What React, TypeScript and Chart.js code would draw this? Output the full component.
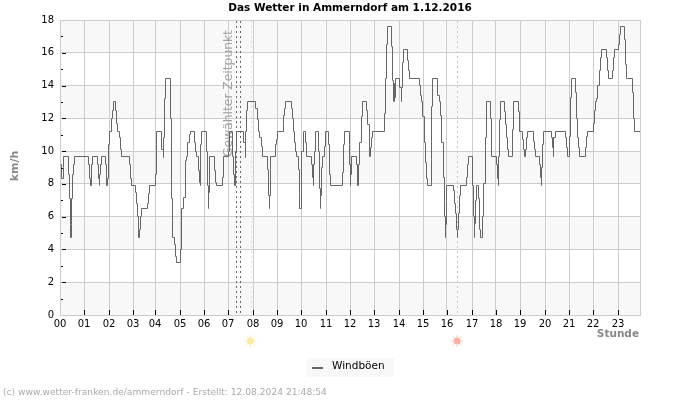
import React, { useEffect, useRef } from "react";
import { Chart, registerables } from "chart.js";

Chart.register(...registerables);

// Time is counted in samples of the station's record (about 24 per hour, some hours are shorter).
const hourLabels = ["00","01","02","03","04","05","06","07","08","09","10","11","12","13","14","15","16","17","18","19","20","21","22","23"];
const hourStart = [0,24,49,73,95,120,144,168,193,217,241,266,290,314,339,363,387,412,436,460,485,509,533,558];
const lastSample = 580;

// Each gust value holds from its sample until the next change.
const gustSample = [
  0,1.7,3,3.7,8,9,10,10.4,11,11.4,12.7,13.4,14,28,29.4,30,31,31.4,32,37.4,38.4,39,39.7,40.4,41,45.4,46,46.7,47.4,48,49,51.4,52,53,55,56,57,59,60,61,
  69.4,70.4,71.4,75,76,77,78,78.7,79.4,80,81,87.4,88,89,95.4,96,96.7,101,101.7,103,103.7,104.4,105,110,111,112,114,115,116,120.4,
  121.7,123,125,126.4,127.7,129,130,134.4,135.4,136.4,138.4,139.4,140,140.7,141.7,146,147,148,148.7,149.7,154.4,155.4,156.4,162,163,168,169,172,173,174,175,176.4,183.7,185,185.7,186.4,187.4,
  195.4,197,198.7,199.7,201,202,207.7,208.4,209,209.4,210,210.7,215,216,217,223,223.7,224.4,225,231,232.4,233.4,234.7,235.7,236.7,
  238,239,239.4,241,241.7,243,245.7,246.7,251.7,252.4,253,253.7,254.4,255.7,258.4,259.4,260,260.7,261.4,262,264.4,265.7,268.4,269.4,270.4,282.7,283.4,284.4,289,289.7,290.4,291,291.7,296,297.7,298.7,299.7,301,302,306.7,307.7,309,309.7,310.7,311.7,312.7,
  324.7,325.4,326.7,327,331.7,332.4,333.4,334,334.4,335,340,341,341.7,342.4,343.4,347.7,348.7,349.4,359.4,360.4,361.4,362.7,364,365.4,366.4,367,371.4,372,372.7,377.4,379,380.7,381.7,383.4,384.4,385,385.7,386.4,387,
  393.4,394.4,395.4,396,397,397.7,398.4,399.4,400.4,406.4,407.4,408,412.4,413,414,414.7,415.4,416,418.7,419.7,420.4,422.7,423.7,425,426,430.7,431.7,436.7,437.4,438,438.7,439.4,440.4,444.7,445.7,446.7,447.7,448.7,452.4,453.4,458,459,462,463,464,465,466,467.4,473.7,474.4,475,
  479.4,480.4,481,481.7,482.4,483,491.4,492.4,493,493.7,495,505.4,506.4,507,509.4,510.4,511,515.4,516.4,517.4,518.4,519.4,525.4,526.7,527.7,533.4,534.4,535.4,536.7,537.7,539,540,541,546,547,548.7,552.4,553.4,554.4,558,559.4,560.4,564.4,565,566,572.4,573.4,574.4,580,
];
const gustKmh = [
  9.2,8.3,9.0,9.7,8.6,7.1,5.5,4.7,5.5,7.1,8.6,9.2,9.7,9.2,8.3,7.9,8.3,9.2,9.7,9.2,8.3,7.9,8.6,9.2,9.7,9.2,8.6,7.9,8.3,10.4,11.2,12,12.5,13,12.5,11.7,11.2,10.8,10.1,9.7,
  9.2,8.3,7.9,7.5,6.8,6,5.2,4.7,5.2,6,6.5,6.8,7.4,7.9,8.6,10.4,11.2,10.8,10.1,9.6,10.8,13.2,14.4,12,7.1,4.7,4.3,3.6,3.2,4,
  6.5,7.2,9.4,9.7,10.5,11,11.2,10.5,10,9.7,8.8,8.1,7.9,10.4,11.2,10,7.9,6.5,7.5,9.7,8.8,8.1,7.9,8.4,9.7,10,11.2,9.7,8.6,7.9,10,11.2,10.5,9.6,11.2,12.5,13,
  12.6,11.9,11.2,10.8,10.3,9.7,8.9,7.3,6.5,7.3,8.9,9.7,10.4,10.7,11.2,11.7,12.2,12.6,13,12.6,12,11.2,10.5,10,9.7,
  8.9,7.4,6.5,7.7,10,11.2,10.5,9.7,9.2,8.4,7.9,9.2,10,11.2,10,7.7,6.5,7.3,9,9.7,10.3,11.2,10.4,8.6,7.9,8.7,10.4,11.2,10.4,9.2,7.9,8.6,9.7,9.2,7.9,9.2,10.5,12.1,13,12.5,11.6,10.8,9.7,10.2,10.8,11.2,
  12.3,14.4,16.5,17.6,16.4,14.3,13,14.1,13.3,14.4,13.9,13,13.9,15.4,16.2,15.5,14.9,14.4,14,13.4,13,12.1,10.5,9.3,8.3,7.9,9.5,12.7,14.4,13.4,13,12.2,10.5,8.4,6,4.7,5.5,7,7.9,
  7.6,6.8,6.2,5.2,4.7,5.2,6.2,7.3,7.9,8.4,9.2,9.7,7.9,6,4.7,5.6,7,7.9,7.1,5.2,4.7,6,8,10.8,13,12,9.7,9.2,8.3,7.9,9.7,11.9,13,12.4,11.6,10.8,10.1,9.7,11.3,13,12.4,11.2,10.7,10.1,9.7,10.1,10.8,11.2,10.6,10.1,9.7,
  9.2,8.4,7.9,9,10.4,11.2,10.8,10.2,9.7,10.8,11.2,10.8,10.2,9.7,10.9,13.3,14.4,13.6,12,10.8,10.2,9.7,10.2,10.9,11.2,11.7,12.5,13,13.2,14,14.9,15.7,16.2,15.7,14.9,14.4,14.9,15.7,16.2,16.5,17.1,17.6,16.8,15.3,14.4,13.6,12,11.2,11.2,
];

const titleText = "Das Wetter in Ammerndorf am 1.12.2016";
const seriesName = "Windböen";
const yTitle = "km/h";
const xTitle = "Stunde";
const selectedLabel = "Gewählter Zeitpunkt";
const footerText = "(c) www.wetter-franken.de/ammerndorf - Erstellt: 12.08.2024 21:48:54";
const selectedSamples = [176, 180];
const sunriseSample = 191.4;
const sunsetSample = 397;
const bandEdges = [18, 16, 14, 12, 10, 8, 6, 4, 2, 0];
const yTickValues = [0,1,2,3,4,5,6,7,8,9,10,11,12,13,14,15,16,17,18];

const FONT = '"DejaVu Sans"';

function drawSun(ctx: CanvasRenderingContext2D, x: number, y: number, core: string, ray: string) {
  ctx.save();
  ctx.strokeStyle = ray;
  ctx.lineWidth = 1;
  for (let i = 0; i < 8; i++) {
    const a = (i * Math.PI) / 4;
    ctx.beginPath();
    ctx.moveTo(x + Math.cos(a) * 3.5, y + Math.sin(a) * 3.5);
    ctx.lineTo(x + Math.cos(a) * 6.5, y + Math.sin(a) * 6.5);
    ctx.stroke();
  }
  ctx.fillStyle = core;
  ctx.beginPath();
  ctx.arc(x, y, 3.5, 0, Math.PI * 2);
  ctx.fill();
  ctx.restore();
}

const decorations = {
  id: "decorations",
  afterDatasetsUpdate(chart: any) {
    // Settle the step line on whole device pixels, so it stays one crisp pixel wide.
    chart.getDatasetMeta(0).data.forEach((pt: any) => {
      pt.x = Math.floor(pt.x) + 0.5;
      pt.y = Math.floor(pt.y) + 0.5;
    });
  },
  beforeDraw(chart: any) {
    const { ctx, chartArea: a, scales } = chart;
    ctx.save();
    ctx.fillStyle = "#ffffff";
    ctx.fillRect(0, 0, chart.width, chart.height);
    ctx.fillStyle = "#f8f8f8";
    for (let i = 0; i + 1 < bandEdges.length; i += 2) {
      const t = scales.y.getPixelForValue(bandEdges[i]);
      const b = scales.y.getPixelForValue(bandEdges[i + 1]);
      ctx.fillRect(a.left, t, a.right - a.left, b - t);
    }
    ctx.restore();
  },
  beforeDatasetsDraw(chart: any) {
    const { ctx, chartArea: a, scales } = chart;
    ctx.save();
    ctx.strokeStyle = "#cccccc";
    ctx.lineWidth = 1;
    ctx.strokeRect(a.left + 0.5, a.top + 0.5, a.right - a.left, a.bottom - a.top);

    const vline = (s: number, color: string, dash: number[]) => {
      const x = Math.round(scales.x.getPixelForValue(s)) + 0.5;
      ctx.strokeStyle = color;
      ctx.setLineDash(dash);
      ctx.beginPath();
      ctx.moveTo(x, a.top + 1);
      ctx.lineTo(x, a.bottom);
      ctx.stroke();
    };
    selectedSamples.forEach((s) => vline(s, "#666666", [2, 3]));
    vline(sunriseSample, "#f0e68c", [2, 3]);
    vline(sunsetSample, "#f0c078", [2, 3]);
    ctx.setLineDash([]);

    ctx.fillStyle = "#a0a0a0";
    ctx.font = `12.3px ${FONT}`;
    ctx.textAlign = "center";
    ctx.textBaseline = "middle";
    ctx.translate(scales.x.getPixelForValue(169), 93.5);
    ctx.rotate(-Math.PI / 2);
    ctx.fillText(selectedLabel, 0, 0);
    ctx.restore();
  },
  afterDraw(chart: any) {
    const { ctx, chartArea: a, scales } = chart;
    ctx.save();
    ctx.strokeStyle = "#000000";
    ctx.lineWidth = 1;
    yTickValues.forEach((v) => {
      if (v === 0 || v === 18) return;
      const y = Math.round(scales.y.getPixelForValue(v)) + 0.5;
      const even = v % 2 === 0;
      ctx.beginPath();
      ctx.moveTo(a.left + (even ? 2 : 1), y);
      ctx.lineTo(a.left + (even ? 6 : 3), y);
      ctx.stroke();
    });
    hourStart.forEach((s) => {
      if (s === 0) return;
      const x = Math.round(scales.x.getPixelForValue(s)) + 0.5;
      ctx.beginPath();
      ctx.moveTo(x, a.bottom);
      ctx.lineTo(x, a.bottom - 5);
      ctx.stroke();
    });

    ctx.textBaseline = "middle";
    ctx.textAlign = "center";
    ctx.fillStyle = "#000000";
    ctx.font = `bold 10.5px ${FONT}`;
    ctx.fillText(titleText, 350, 8);

    ctx.fillStyle = "#888888";
    ctx.font = `bold 10.5px ${FONT}`;
    ctx.textAlign = "right";
    ctx.fillText(xTitle, 639, 334);
    ctx.save();
    ctx.textAlign = "center";
    ctx.font = `bold 11px ${FONT}`;
    ctx.translate(15, 166);
    ctx.rotate(-Math.PI / 2);
    ctx.fillText(yTitle, 0, 0);
    ctx.restore();

    drawSun(ctx, scales.x.getPixelForValue(sunriseSample) - 1, 341, "#fde9a0", "#fdf0c0");
    drawSun(ctx, scales.x.getPixelForValue(sunsetSample), 341, "#fbb0a0", "#fcd0c4");

    ctx.fillStyle = "#f8f8f8";
    ctx.fillRect(307, 358, 87, 19);
    ctx.fillStyle = "#666666";
    ctx.fillRect(312, 367, 11, 2);
    ctx.fillStyle = "#000000";
    ctx.font = `10.5px ${FONT}`;
    ctx.textAlign = "left";
    ctx.fillText(seriesName, 332, 366);

    ctx.fillStyle = "#aaaaaa";
    ctx.font = `9.15px ${FONT}`;
    ctx.fillText(footerText, 3, 393);
    ctx.restore();
  },
};

export default function App() {
  const ref = useRef<HTMLCanvasElement>(null);
  useEffect(() => {
    if (!ref.current) return;
    const chart = new Chart(ref.current, {
      type: "line",
      data: {
        datasets: [
          {
            label: seriesName,
            data: gustSample.map((x, i) => ({ x, y: gustKmh[i] })),
            borderColor: "#666666",
            borderWidth: 1,
            pointRadius: 0,
            stepped: true,
            tension: 0,
          },
        ],
      },
      options: {
        responsive: false,
        animation: false,
        devicePixelRatio: 1,
        layout: { padding: { left: 0, right: 60, top: 20, bottom: 55 } },
        plugins: { legend: { display: false }, title: { display: false }, tooltip: { enabled: false } },
        scales: {
          x: {
            type: "linear",
            min: 0,
            max: lastSample,
            afterFit: (s: any) => { s.height = 30; },
            afterBuildTicks: (s: any) => { s.ticks = hourStart.map((value) => ({ value })); },
            grid: { color: "#cccccc", drawTicks: false },
            border: { display: false },
            ticks: {
              autoSkip: false,
              maxRotation: 0,
              padding: 3,
              color: "#000000",
              font: { family: FONT, size: 10 },
              callback: (_v: any, i: number) => hourLabels[i],
            },
          },
          y: {
            min: 0,
            max: 18,
            afterFit: (s: any) => { s.width = 60; },
            grid: { color: "#cccccc", drawTicks: false },
            border: { display: false },
            ticks: {
              stepSize: 2,
              padding: 6,
              color: "#000000",
              font: { family: FONT, size: 10 },
            },
          },
        },
      },
      plugins: [decorations],
    } as any);
    return () => chart.destroy();
  }, []);
  return (
    <div style={{ position: "fixed", left: 0, top: 0, width: 700, height: 400, background: "#fff" }}>
      <canvas ref={ref} width={700} height={400} style={{ display: "block", width: 700, height: 400 }} />
    </div>
  );
}
